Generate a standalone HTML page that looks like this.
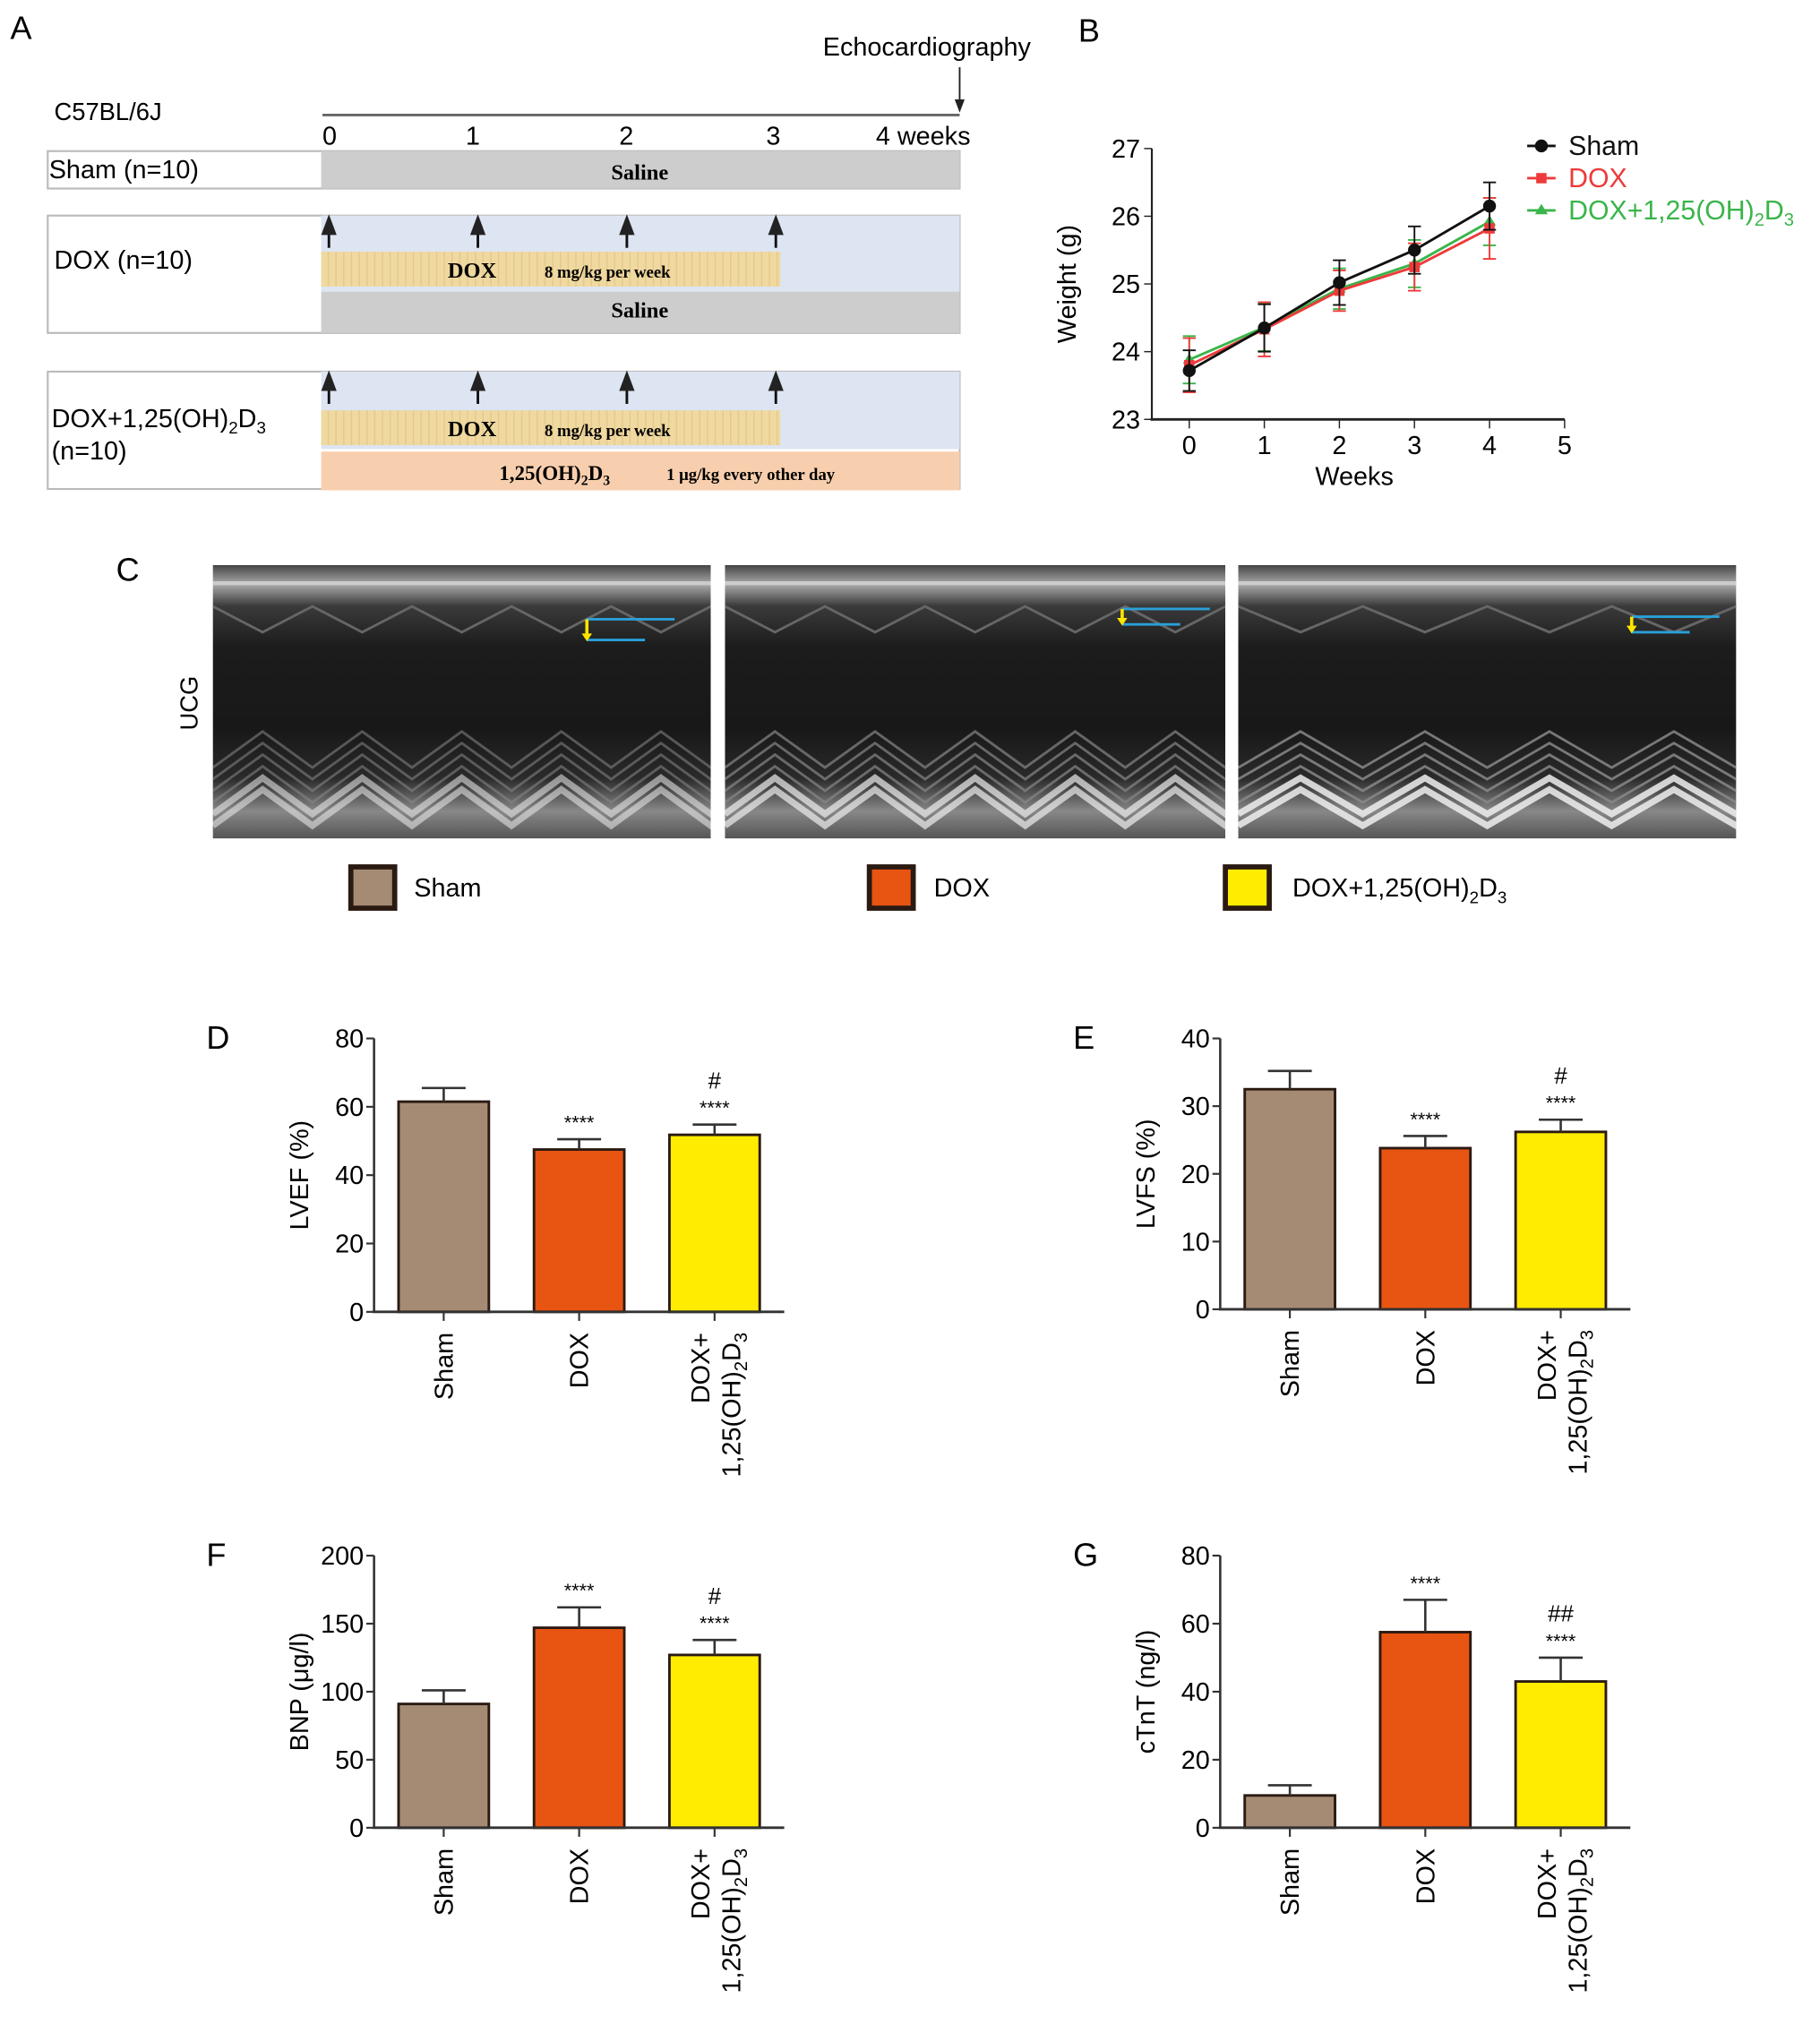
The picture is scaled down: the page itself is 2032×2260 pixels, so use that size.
<!DOCTYPE html>
<html><head><meta charset="utf-8"><style>
html,body{margin:0;padding:0;background:#fff}
svg{display:block}
text{font-family:"Liberation Sans",sans-serif}
.serif{font-family:"Liberation Serif",serif;font-weight:bold}
</style></head><body>
<svg id="fig" width="2032" height="2260" viewBox="0 0 1411 1569" xmlns="http://www.w3.org/2000/svg">
<defs>
<marker id="ah" markerWidth="8" markerHeight="8" refX="4" refY="4" orient="auto"><path d="M0,1 L8,4 L0,7z" fill="#222"/></marker>
<linearGradient id="echoTop" x1="0" y1="0" x2="0" y2="1"><stop offset="0" stop-color="#444"/><stop offset="0.07" stop-color="#aaa"/><stop offset="0.15" stop-color="#3a3a3a"/><stop offset="0.3" stop-color="#1c1c1c"/><stop offset="0.6" stop-color="#181818"/><stop offset="0.78" stop-color="#2a2a2a"/><stop offset="0.9" stop-color="#888"/><stop offset="1" stop-color="#555"/></linearGradient>
<pattern id="tan" width="6" height="6" patternUnits="userSpaceOnUse"><rect width="6" height="6" fill="#f0d9a0"/><rect x="2" width="1" height="6" fill="#e3c98c"/></pattern>
<clipPath id="c0"><rect x="165" y="438" width="386" height="212"/></clipPath>
<clipPath id="c1"><rect x="562" y="438" width="388" height="212"/></clipPath>
<clipPath id="c2"><rect x="960" y="438" width="386" height="212"/></clipPath>
</defs>

<g>
<text x="8" y="30" font-size="25">A</text>
<text x="638" y="43" font-size="20">Echocardiography</text>
<line x1="744" y1="52" x2="744" y2="82" stroke="#222" stroke-width="1.3" marker-end="url(#ah)"/>
<text x="42" y="93" font-size="19">C57BL/6J</text>
<line x1="250" y1="89" x2="744" y2="89" stroke="#666" stroke-width="2"/>
<g font-size="20">
<text x="250" y="112">0</text><text x="361" y="112">1</text><text x="480" y="112">2</text><text x="594" y="112">3</text><text x="679" y="112">4 weeks</text></g>
<rect x="37" y="117" width="707" height="29" fill="#fff" stroke="#bbb" stroke-width="1.5"/>
<rect x="249" y="117" width="495" height="29" fill="#cdcdcd"/>
<text x="38" y="138" font-size="20">Sham (n=10)</text>
<text x="496" y="139" font-size="17" class="serif" text-anchor="middle">Saline</text>

<rect x="37" y="167" width="707" height="91" fill="#fff" stroke="#bbb" stroke-width="1.5"/>
<rect x="249" y="167" width="495" height="59" fill="#dde5f3"/>
<rect x="249" y="195" width="356" height="27" fill="url(#tan)"/>
<rect x="249" y="226" width="495" height="32" fill="#cdcdcd"/>
<text x="42" y="208" font-size="20">DOX (n=10)</text>
<text x="366" y="215" font-size="17" class="serif" text-anchor="middle">DOX</text>
<text x="471" y="215" font-size="13" class="serif" text-anchor="middle">8 mg/kg per week</text>
<text x="496" y="246" font-size="17" class="serif" text-anchor="middle">Saline</text>

<rect x="37" y="288" width="707" height="91" fill="#fff" stroke="#bbb" stroke-width="1.5"/>
<rect x="249" y="288" width="495" height="60" fill="#dde5f3"/>
<rect x="249" y="318" width="356" height="27" fill="url(#tan)"/>
<rect x="249" y="350" width="495" height="30" fill="#f8cfae"/>
<text x="40" y="331" font-size="20">DOX+1,25(OH)<tspan font-size="13" dy="5">2</tspan><tspan dy="-5">D</tspan><tspan font-size="13" dy="5">3</tspan></text>
<text x="40" y="356" font-size="20">(n=10)</text>
<text x="366" y="338" font-size="17" class="serif" text-anchor="middle">DOX</text>
<text x="471" y="338" font-size="13" class="serif" text-anchor="middle">8 mg/kg per week</text>
<text x="430" y="372" font-size="16" class="serif" text-anchor="middle">1,25(OH)<tspan font-size="11" dy="4">2</tspan><tspan dy="-4">D</tspan><tspan font-size="11" dy="4">3</tspan></text>
<text x="582" y="372" font-size="13" class="serif" text-anchor="middle">1 μg/kg every other day</text>
<g id="dosearrows"></g>
</g>

<g id="panelB">
<text x="836" y="32" font-size="25">B</text>
<text x="834" y="220" font-size="20" transform="rotate(-90 834 220)" text-anchor="middle">Weight (g)</text>
<text x="1050" y="376" font-size="20" text-anchor="middle">Weeks</text>
</g>

<g id="panelC">
<text x="90" y="450" font-size="25">C</text>
<text x="153" y="545" font-size="19" transform="rotate(-90 153 545)" text-anchor="middle">UCG</text>
</g>

<g id="legendC">
<rect x="272" y="672" width="34" height="32" fill="#a58b73" stroke="#2a1a12" stroke-width="4"/>
<text x="321" y="695" font-size="20">Sham</text>
<rect x="674" y="672" width="34" height="32" fill="#e85412" stroke="#2a1a12" stroke-width="4"/>
<text x="724" y="695" font-size="20">DOX</text>
<rect x="950" y="672" width="34" height="32" fill="#ffec00" stroke="#2a1a12" stroke-width="4"/>
<text x="1002" y="695" font-size="20">DOX+1,25(OH)<tspan font-size="13" dy="5">2</tspan><tspan dy="-5">D</tspan><tspan font-size="13" dy="5">3</tspan></text>
</g>

<g id="bars"></g>
</svg>
<script>
const NS="http://www.w3.org/2000/svg";
function mk(tag,attrs,parent){const e=document.createElementNS(NS,tag);for(const k in attrs)e.setAttribute(k,attrs[k]);parent.appendChild(e);return e;}

const doseWeeks=[0,1,2,3];
const tlX=w=>255+w*115.5;
const da=document.getElementById('dosearrows');
[[192,170],[313,291]].forEach(r=>doseWeeks.forEach(w=>{
 const l=mk('line',{x1:tlX(w),y1:r[0],x2:tlX(w),y2:r[1]+4,stroke:'#111','stroke-width':2,'marker-end':'url(#ah)'},da);
 
 
}));

const weeks=[0,1,2,3,4];
const shamW=[23.72,24.35,25.02,25.5,26.15];
const doxW=[23.8,24.33,24.9,25.25,25.82];
const vdW=[23.88,24.36,24.93,25.3,25.92];
const shamE=[0.3,0.35,0.33,0.35,0.35];
const doxE=[0.4,0.4,0.3,0.35,0.45];
const vdE=[0.35,0.35,0.3,0.35,0.35];
const bTicks=[23,24,25,26,27];
const bXTicks=[0,1,2,3,4,5];
const bx=v=>922+v*58.2, by=v=>325-(v-23)*52.5;
const pB=document.getElementById('panelB');
mk('line',{x1:893,y1:115,x2:893,y2:326,stroke:'#222','stroke-width':1.5},pB);
mk('line',{x1:892,y1:325,x2:1213,y2:325,stroke:'#222','stroke-width':2},pB);
bTicks.forEach(t=>{mk('line',{x1:887,y1:by(t),x2:893,y2:by(t),stroke:'#222'},pB);
 const tx=mk('text',{x:884,y:by(t)+7,'font-size':20,'text-anchor':'end'},pB);tx.textContent=t;
 });
bXTicks.forEach(t=>{mk('line',{x1:bx(t),y1:325,x2:bx(t),y2:332,stroke:'#222'},pB);
 const tx=mk('text',{x:bx(t),y:352,'font-size':20,'text-anchor':'middle'},pB);tx.textContent=t;
 });
const series=[[vdW,vdE,'#3ab54a','triangle'],[doxW,doxE,'#ee3a3a','square'],[shamW,shamE,'#111','circle']];
series.forEach(([d,e,c,m])=>{
 weeks.forEach((w,i)=>{const x=bx(w);
  mk('line',{x1:x,y1:by(d[i]-e[i]),x2:x,y2:by(d[i]+e[i]),stroke:c,'stroke-width':1.3},pB);
  mk('line',{x1:x-5,y1:by(d[i]-e[i]),x2:x+5,y2:by(d[i]-e[i]),stroke:c,'stroke-width':1.3},pB);
  mk('line',{x1:x-5,y1:by(d[i]+e[i]),x2:x+5,y2:by(d[i]+e[i]),stroke:c,'stroke-width':1.3},pB);});
 const pl=mk('polyline',{points:weeks.map((w,i)=>bx(w)+','+by(d[i])).join(' '),fill:'none',stroke:c,'stroke-width':2},pB);
 
 weeks.forEach((w,i)=>{let p;
  if(m==='circle')p=mk('circle',{cx:bx(w),cy:by(d[i]),r:5,fill:c},pB);
  else if(m==='square')p=mk('rect',{x:bx(w)-4,y:by(d[i])-4,width:8,height:8,fill:c},pB);
  else p=mk('path',{d:`M${bx(w)},${by(d[i])-5} l5,8 h-10z`,fill:c},pB);
  });
});
const legB=[['Sham','#111',113],['DOX','#ee3a3a',138],['DOX+1,25(OH)','#3ab54a',163]];
legB.forEach(([t,c,y],i)=>{
 mk('line',{x1:1184,y1:y,x2:1206,y2:y,stroke:c,'stroke-width':2},pB);
 if(i===0)mk('circle',{cx:1195,cy:y,r:5,fill:c},pB);else if(i===1)mk('rect',{x:1191,y:y-4,width:8,height:8,fill:c},pB);else mk('path',{d:`M1195,${y-5} l5,8 h-10z`,fill:c},pB);
 const tx=mk('text',{x:1216,y:y+7,'font-size':21,fill:c},pB);
 if(i<2)tx.textContent=t;else tx.innerHTML='DOX+1,25(OH)<tspan font-size="14" dy="5">2</tspan><tspan dy="-5">D</tspan><tspan font-size="14" dy="5">3</tspan>';
});

const pC=document.getElementById('panelC');
const echoX=[165,562,960];const echoWs=[386,388,386];
const beats=[[5,0.55],[5,0.7],[4,0.85]];
echoX.forEach((x0,k)=>{
 const echoW=echoWs[k];
 const g=mk('g',{'clip-path':`url(#c${k})`},pC);
 mk('rect',{x:x0,y:438,width:echoW,height:212,fill:'url(#echoTop)'},g);
 const n=beats[k][0];const per=echoW/n;
 for(let band=0;band<6;band++){
  let pts=[];for(let i=0;i<=n;i++){pts.push((x0+i*per)+','+(640-band*9));pts.push((x0+i*per+per/2)+','+(612-band*9));}
  mk('polyline',{points:pts.join(' '),fill:'none',stroke:band<2?'#eee':'#888','stroke-width':band<2?5:2,opacity:beats[k][1]},g);
 }
 let pts=[];for(let i=0;i<=n;i++){pts.push((x0+i*per)+','+470);pts.push((x0+i*per+per/2)+','+490);}
 mk('polyline',{points:pts.join(' '),fill:'none',stroke:'#666','stroke-width':2},g);
 mk('line',{x1:x0,y1:452,x2:x0+echoW,y2:452,stroke:'#ccc','stroke-width':3},g);
 const ax=[455,870,1265][k];const ay=[480,472,478][k];const ay2=[496,484,490][k];
 mk('line',{x1:ax,y1:ay,x2:ax+68,y2:ay,stroke:'#2aa0d8','stroke-width':2},g);
 mk('line',{x1:ax,y1:ay2,x2:ax+45,y2:ay2,stroke:'#2aa0d8','stroke-width':2},g);
 mk('line',{x1:ax,y1:ay,x2:ax,y2:ay2-3,stroke:'#ffe400','stroke-width':2.5},g);
 mk('path',{d:`M${ax-4},${ay2-5} l8,0 l-4,6z`,fill:'#ffe400'},g);
});

const groups=['Sham','DOX','DOX+VD'];
const colors=['#a58b73','#e85412','#ffec00'];
const lvef=[61.5,47.5,51.8], lvefErr=[4,3,3];
const lvfs=[32.5,23.8,26.2], lvfsErr=[2.7,1.8,1.8];
const bnp=[91,147,127], bnpErr=[10,15,11];
const ctnt=[9.5,57.5,43], ctntErr=[3,9.5,7];
const lvefTicks=[0,20,40,60,80], lvfsTicks=[0,10,20,30,40], bnpTicks=[0,50,100,150,200], ctntTicks=[0,20,40,60,80];
const sigStars=['','****','****'];
const sigHashD=['','','#'], sigHashE=['','','#'], sigHashF=['','','#'], sigHashG=['','','##'];
const panels=[
 {L:'D',lx:160,ax:290,top:805,bot:1017,max:80,ticks:lvefTicks,v:lvef,e:lvefErr,yl:'LVEF (%)',h:sigHashD},
 {L:'E',lx:832,ax:946,top:805,bot:1015,max:40,ticks:lvfsTicks,v:lvfs,e:lvfsErr,yl:'LVFS (%)',h:sigHashE},
 {L:'F',lx:160,ax:290,top:1206,bot:1417,max:200,ticks:bnpTicks,v:bnp,e:bnpErr,yl:'BNP (μg/l)',h:sigHashF},
 {L:'G',lx:832,ax:946,top:1206,bot:1417,max:80,ticks:ctntTicks,v:ctnt,e:ctntErr,yl:'cTnT (ng/l)',h:sigHashG}];
const bg=document.getElementById('bars');
panels.forEach(p=>{
 const g=mk('g',{},bg);
 
 
 const y=v=>p.bot-(v/p.max)*(p.bot-p.top);
 const x=i=>p.ax+54+i*105;
 const lab=mk('text',{x:p.lx,y:p.top+8,'font-size':25},g);lab.textContent=p.L;
 
 const yt=mk('text',{x:p.ax-51,y:(p.top+p.bot)/2,'font-size':20,'text-anchor':'middle',transform:`rotate(-90 ${p.ax-51} ${(p.top+p.bot)/2})`},g);yt.textContent=p.yl;
 
 mk('line',{x1:p.ax,y1:p.top,x2:p.ax,y2:p.bot,stroke:'#333','stroke-width':1.8},g);
 p.ticks.forEach(t=>{mk('line',{x1:p.ax-6,y1:y(t),x2:p.ax,y2:y(t),stroke:'#333','stroke-width':1.5},g);
  const tx=mk('text',{x:p.ax-8,y:y(t)+7,'font-size':20,'text-anchor':'end'},g);tx.textContent=t;
  });
 p.v.forEach((v,i)=>{
  const cx=x(i);
  const r=mk('rect',{x:cx-35,y:y(v),width:70,height:p.bot-y(v),fill:colors[i],stroke:'#2a1a12','stroke-width':2},g);
  
  
  mk('line',{x1:cx,y1:y(v),x2:cx,y2:y(v+p.e[i]),stroke:'#333','stroke-width':1.8},g);
  mk('line',{x1:cx-17,y1:y(v+p.e[i]),x2:cx+17,y2:y(v+p.e[i]),stroke:'#333','stroke-width':1.8},g);
  mk('line',{x1:cx,y1:p.bot,x2:cx,y2:p.bot+7,stroke:'#333','stroke-width':1.5},g);
  if(sigStars[i]){const s=mk('text',{x:cx,y:y(v+p.e[i])-8,'font-size':15,'text-anchor':'middle'},g);s.textContent=sigStars[i];
   }
  if(p.h[i]){const s=mk('text',{x:cx,y:y(v+p.e[i])-28,'font-size':18,'text-anchor':'middle'},g);s.textContent=p.h[i];
   }
  const ly=p.bot+16;
  const lt=mk('text',{x:cx+7,y:ly,'font-size':20,'text-anchor':'end',transform:`rotate(-90 ${cx+7} ${ly})`},g);
  
  if(i<2)lt.textContent=groups[i];
  else{lt.setAttribute('x',cx-4);lt.setAttribute('transform',`rotate(-90 ${cx-4} ${ly})`);lt.textContent='DOX+';
   const l2=mk('text',{x:cx+20,y:ly,'font-size':20,'text-anchor':'end',transform:`rotate(-90 ${cx+20} ${ly})`},g);
   l2.innerHTML='1,25(OH)<tspan font-size="14" dy="5">2</tspan><tspan dy="-5">D</tspan><tspan font-size="14" dy="5">3</tspan>';
   }
 });
 mk('line',{x1:p.ax-1,y1:p.bot,x2:p.ax+318,y2:p.bot,stroke:'#333','stroke-width':2},g);
});
</script>
</body></html>
